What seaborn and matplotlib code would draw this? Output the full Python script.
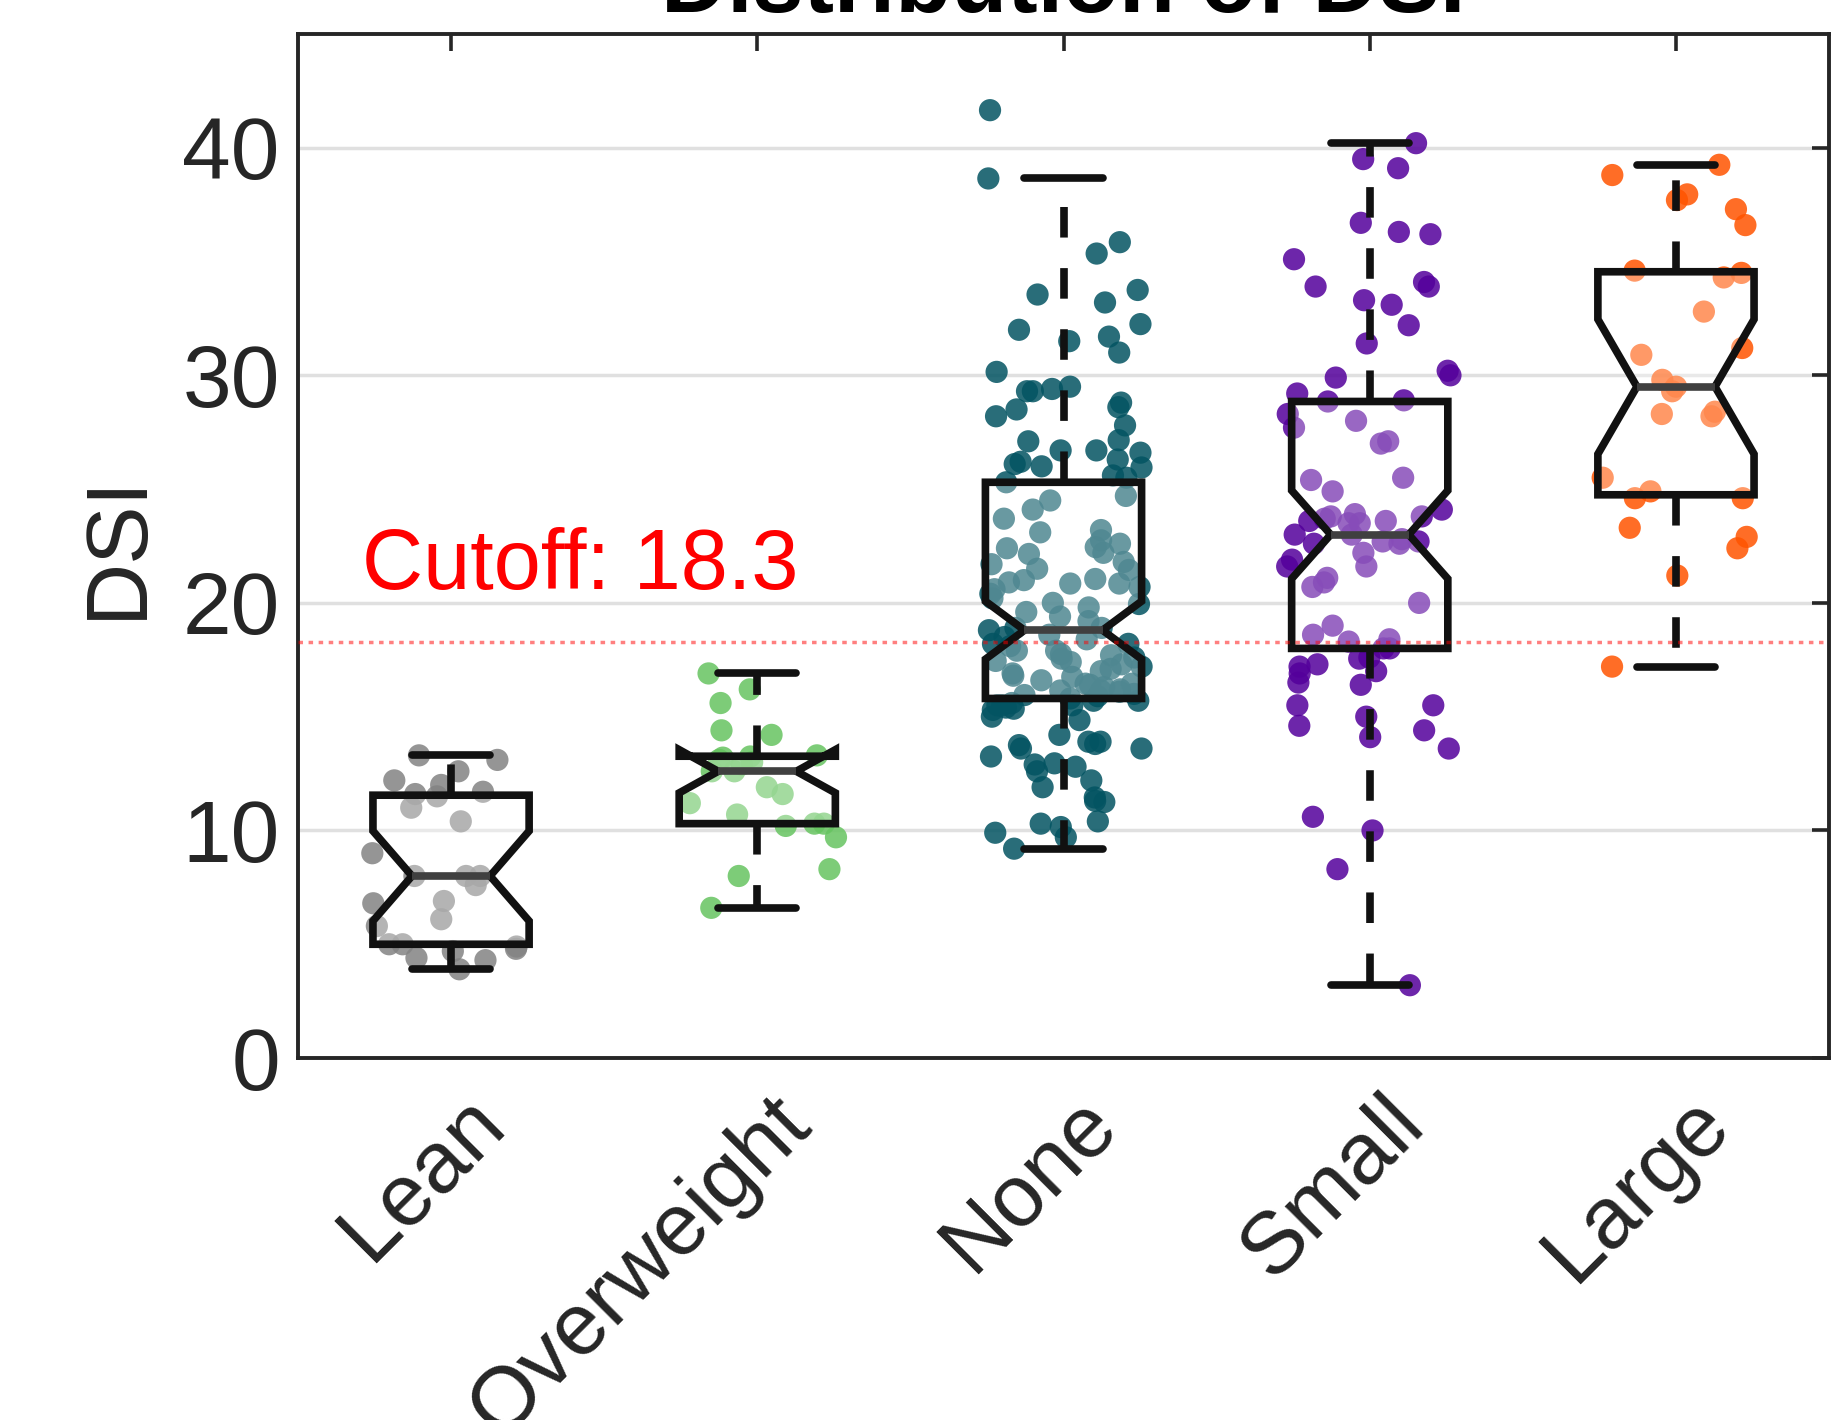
import numpy as np
import pandas as pd
import seaborn as sns
import matplotlib.pyplot as plt
from matplotlib.transforms import ScaledTranslation


# DSI values per group
groups = ['Lean', 'Overweight', 'None', 'Small', 'Large']

lean = [3.9, 4.3, 4.4, 4.7, 4.8, 4.9, 5.0, 5.0, 5.8, 6.1, 6.8, 6.9, 7.6, 8.0,
        8.0, 8.0, 9.0, 10.4, 11.0, 11.5, 11.6, 11.7, 12.0, 12.2, 12.6, 13.1, 13.3]

overweight = [6.6, 8.0, 8.3, 9.7, 10.2, 10.3, 10.3, 10.7, 11.2, 11.6, 11.9, 12.6,
              12.6, 12.9, 13.0, 13.1, 13.2, 13.25, 13.3, 14.2, 14.4, 15.6, 16.2, 16.9]

none = [9.2, 9.7, 9.9, 10.15, 10.3, 10.4, 11.25, 11.3, 11.45, 11.9, 12.2, 12.6,
        12.8, 12.9, 12.95, 13.25, 13.6, 13.6, 13.75, 13.8, 13.9, 13.9, 14.2, 14.85,
        15.0, 15.3, 15.35, 15.4, 15.5, 15.5, 15.5, 15.6, 15.7, 15.7,
        15.8,
        15.9, 15.95, 16.0, 16.1, 16.15, 16.15, 16.2, 16.3, 16.4, 16.45, 16.45, 16.6,
        16.75, 16.8, 16.9, 17.0, 17.1, 17.2, 17.3, 17.4, 17.45, 17.55, 17.6, 17.7,
        17.75, 17.9, 17.9, 18.1, 18.2, 18.2, 18.4, 18.5, 18.6,
        18.8,
        18.9, 18.9, 19.2, 19.4, 19.6, 19.8, 19.95, 20.0, 20.2, 20.4, 20.6, 20.7,
        20.85, 20.85, 20.9, 21.0, 21.05, 21.45, 21.5, 21.7, 21.8, 22.15, 22.2, 22.4,
        22.45, 22.6, 22.75, 23.1, 23.2, 23.7, 24.1, 24.5, 24.7,
        25.3,
        25.5, 25.6, 25.95, 26.0, 26.1, 26.2, 26.3, 26.6, 26.7, 26.7, 27.1, 27.15,
        27.8, 28.2, 28.5, 28.6, 28.8, 29.3, 29.3, 29.4, 29.5, 30.15, 31.0, 31.5,
        31.7, 32.0, 32.25, 33.2, 33.55, 33.75, 35.35, 35.85, 38.65, 41.65]

small = [3.2, 8.3, 10.0, 10.6, 13.6, 14.1, 14.4, 14.6, 15.0, 15.5, 15.5, 16.4,
         16.5, 16.9, 17.0, 17.2, 17.3, 17.55, 17.6,
         18.0,
         18.0, 18.3, 18.4, 18.6, 19.0, 20.0, 20.7, 20.9, 21.1, 21.6, 21.6, 21.9,
         22.2, 22.6, 22.6, 22.7, 22.7, 22.8,
         23.0,
         23.0, 23.5, 23.5, 23.6, 23.6, 23.7, 23.8, 23.8, 23.9, 24.1, 24.9, 25.4,
         25.5, 27.0, 27.1, 27.7, 28.0, 28.3,
         28.85,
         28.9, 29.2, 29.9, 30.0, 30.2, 31.4, 32.2, 33.1, 33.3, 33.9, 33.9, 34.1,
         35.1, 36.2, 36.3, 36.7, 39.1, 39.5, 40.2]

large = [17.2, 21.2, 22.4, 22.9, 23.3, 24.6, 24.6, 24.9, 25.5, 28.2, 28.3, 28.4,
         29.3, 29.5, 29.8, 30.9, 31.2, 32.8, 34.3, 34.5, 34.6, 36.6, 37.3, 37.7,
         37.95, 38.8, 39.25]

cutoff = 18.3
yticks = [0, 10, 20, 30, 40]

palette = {'Lean': '#838383', 'Overweight': '#66c460', 'None': '#035462',
           'Small': '#54009b', 'Large': '#ff5400'}

values = [lean, overweight, none, small, large]
df = pd.DataFrame({
    'group': [g for g, v in zip(groups, values) for _ in v],
    'DSI': [x for v in values for x in v],
})

sns.set_theme(style='white')
plt.rcParams['font.family'] = ['Liberation Sans', 'DejaVu Sans']

fig = plt.figure(figsize=(18.47, 14.20), dpi=100)
ax = fig.add_axes([0.1613, 0.2549, 0.829, 0.7212])

# jittered points under the boxes
np.random.seed(3)
sns.stripplot(data=df, x='group', y='DSI', order=groups, hue='group',
              palette=palette, jitter=0.27, size=16, alpha=0.85,
              linewidth=0, legend=False, zorder=1, ax=ax)

# notched boxes, dashed whiskers, white see-through face
lw = 5.5
sns.boxplot(data=df, x='group', y='DSI', order=groups, width=0.51, notch=True,
            showfliers=False, color='white', linewidth=lw, linecolor='#111111',
            boxprops=dict(facecolor=(1, 1, 1, 0.3), linewidth=lw),
            whiskerprops=dict(linestyle=(0, (4, 4)), linewidth=lw),
            capprops=dict(linewidth=lw),
            medianprops=dict(color='#404040', linewidth=lw),
            ax=ax)

ax.axhline(cutoff, color='red', alpha=0.5, lw=2.5, linestyle=(0, (1.3, 1.6)), zorder=4)
ax.text(-0.291, 20.6, f'Cutoff: {cutoff}', color='red', fontsize=61)

ax.set_xlim(-0.5, 4.5)
ax.set_ylim(0, 45)
ax.set_yticks(yticks)
ax.yaxis.grid(True, color='#e0e0e0', linewidth=2.5)
ax.set_axisbelow(True)

for s in ax.spines.values():
    s.set_visible(True)
    s.set_color('#262626')
    s.set_linewidth(2.8)
ax.tick_params(direction='in', length=12, width=2.6, color='#262626',
               top=True, right=True, labelsize=63, labelcolor='#262626')
ax.tick_params(axis='x', pad=14)
ax.tick_params(axis='y', pad=13)
shift = ScaledTranslation(0.12, -0.04, fig.dpi_scale_trans)
for lab in ax.get_xticklabels():
    lab.set_rotation(45)
    lab.set_ha('right')
    lab.set_va('top')
    lab.set_rotation_mode('anchor')
    lab.set_transform(lab.get_transform() + shift)

ax.set_xlabel('')
ax.set_ylabel('DSI', fontsize=63, color='#262626')
ax.yaxis.set_label_coords(-0.091, 0.5)
ax.set_title('Distribution of DSI', fontsize=66, fontweight='bold', pad=16, color='black')

fig.savefig('out.png', dpi=100)
